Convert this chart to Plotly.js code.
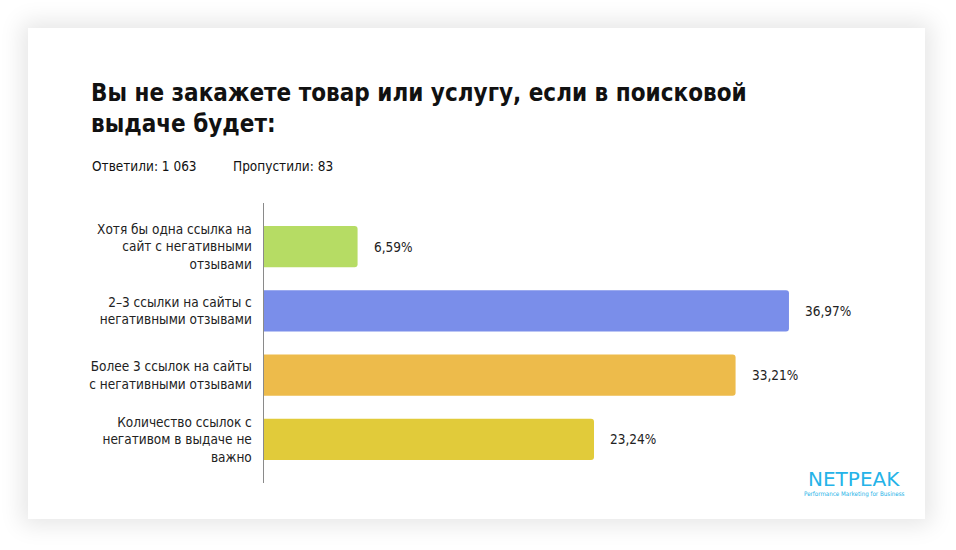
<!DOCTYPE html>
<html>
<head>
<meta charset="utf-8">
<script src="https://cdn.plot.ly/plotly-3.0.1.min.js"></script>
<style>
  html, body { margin: 0; padding: 0; background: #ffffff; }
  #wrap { position: relative; width: 956px; height: 550px; overflow: hidden; background: #ffffff; }
  #card { position: absolute; left: 28px; top: 28px; width: 897px; height: 491px; background: #ffffff;
          box-shadow: 0 0 22px 6px rgba(0,0,0,0.10); }
  #chart { position: absolute; left: 0; top: 0; width: 956px; height: 550px; }
</style>
</head>
<body>
<div id="wrap">
  <div id="card"></div>
  <div id="chart"></div>
</div>
<script>
const titleText = "Вы не закажете товар или услугу, если в поисковой<br>выдаче будет:";
const answeredText = "Ответили: 1 063";
const skippedText = "Пропустили: 83";
const categories = [
  "Хотя бы одна ссылка на<br>сайт с негативными<br>отзывами",
  "2–3 ссылки на сайты с<br>негативными отзывами",
  "Более 3 ссылок на сайты<br>с негативными отзывами",
  "Количество ссылок с<br>негативом в выдаче не<br>важно"
];
const values = [6.59, 36.97, 33.21, 23.24];
const valueLabels = ["6,59%", "36,97%", "33,21%", "23,24%"];
const barColors = ["#b6dc64", "#7a8eea", "#edbb4b", "#e1cb3a"];
const brandName = "NETPEAK";
const brandTagline = "Performance Marketing for Business";

const FONT = "DejaVu Sans Condensed, DejaVu Sans, sans-serif";

// plot area in pixels: x 264..832, y 203..483
const PL = 264, PW = 568, PT = 203, PH = 280;
const px = (x) => (x - PL) / PW;
const py = (y) => (PT + PH - y) / PH;

const trace = {
  type: "bar",
  orientation: "h",
  x: values,
  y: categories,
  marker: { color: barColors, line: { width: 0 } },
  hoverinfo: "none"
};

const valueAnnotations = values.map((v, i) => ({
  x: v, y: categories[i], xref: "x", yref: "y",
  text: valueLabels[i], showarrow: false,
  xanchor: "left", xshift: 14,
  font: { family: FONT, size: 13.5, color: "#222222" }
}));

const layout = {
  width: 956, height: 550,
  paper_bgcolor: "rgba(0,0,0,0)",
  plot_bgcolor: "rgba(0,0,0,0)",
  margin: { l: PL, r: 956 - PL - PW, t: PT, b: 550 - PT - PH, pad: 0 },
  showlegend: false,
  bargap: 0.36,
  barcornerradius: 3,
  title: {
    text: "<b>" + titleText + "</b>",
    x: 91 / 956, xref: "container", xanchor: "left",
    y: 1 - 101 / 550, yref: "container", yanchor: "top",
    font: { family: FONT, size: 24, color: "#111111" }
  },
  xaxis: {
    range: [0, 40],
    showgrid: false, zeroline: false, showline: false,
    showticklabels: false, ticks: "", fixedrange: true
  },
  yaxis: {
    type: "category",
    autorange: false,
    range: [3.68, -0.68],
    showgrid: false, zeroline: false,
    showline: true, linecolor: "#8a8a8a", linewidth: 1.5,
    ticks: "", ticklabelstandoff: 8,
    tickfont: { family: FONT, size: 13.5, color: "#222222" },
    fixedrange: true
  },
  annotations: valueAnnotations.concat([
    {
      xref: "paper", yref: "paper", x: px(90), y: py(166),
      xanchor: "left", yanchor: "middle", showarrow: false,
      text: answeredText,
      font: { family: FONT, size: 13.5, color: "#111111" }
    },
    {
      xref: "paper", yref: "paper", x: px(231), y: py(166),
      xanchor: "left", yanchor: "middle", showarrow: false,
      text: skippedText,
      font: { family: FONT, size: 13.5, color: "#111111" }
    },
    {
      xref: "paper", yref: "paper", x: px(854), y: py(479),
      xanchor: "center", yanchor: "middle", showarrow: false,
      text: brandName,
      font: { family: "DejaVu Sans, sans-serif", size: 20, color: "#25b3e8" }
    },
    {
      xref: "paper", yref: "paper", x: px(854), y: py(494),
      xanchor: "center", yanchor: "middle", showarrow: false,
      text: brandTagline,
      font: { family: FONT, size: 6.2, color: "#25b3e8" }
    }
  ])
};

Plotly.newPlot("chart", [trace], layout, { displayModeBar: false, staticPlot: true });
</script>
</body>
</html>
